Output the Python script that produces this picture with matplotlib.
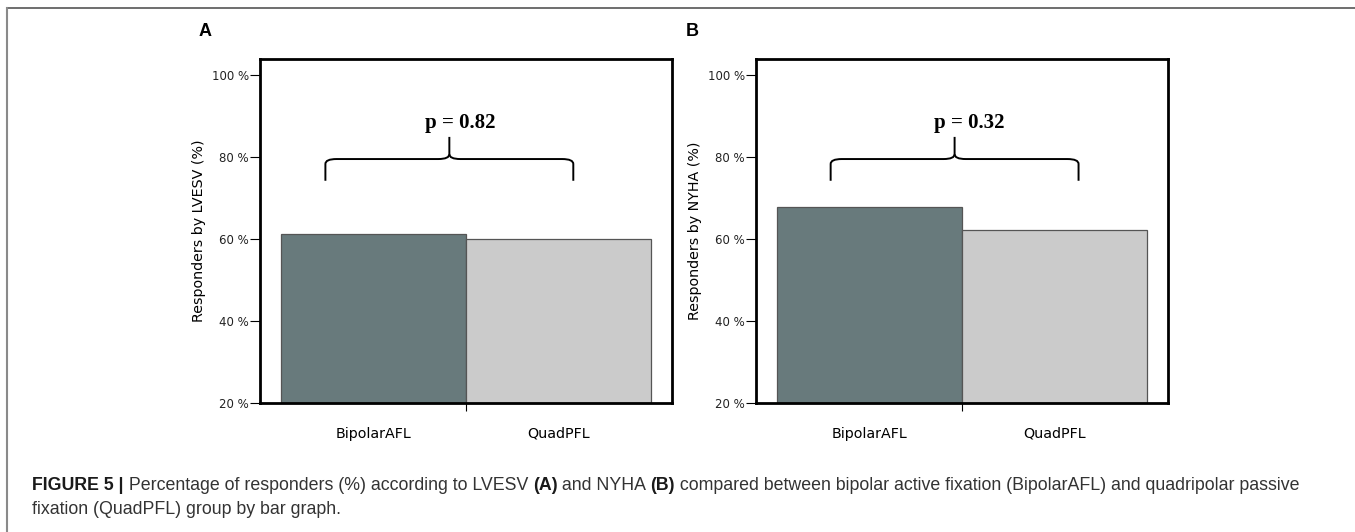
import numpy as np
import matplotlib.pyplot as plt
from matplotlib.path import Path
from matplotlib.patches import PathPatch
from matplotlib.lines import Line2D

groups = ['BipolarAFL', 'QuadPFL']
lvesv = [61.2, 60.0]
nyha = [67.8, 62.2]
p_values = ['p = 0.82', 'p = 0.32']
panel_names = ['A', 'B']
ylabels = ['Responders by LVESV (%)', 'Responders by NYHA (%)']
yticks = [20, 40, 60, 80, 100]

bar_colors = ['#687a7c', '#cbcbcb']
W, H = 1355, 532


def px_axes(fig, left, top, right, bottom):
    return fig.add_axes([left / W, 1 - bottom / H, (right - left) / W, (bottom - top) / H])


def draw_brace(ax, x0, x1, xtip, y, y_end, y_tip):
    # curly brace made of quadratic curves
    r = 0.06
    dy = 1.2
    verts = [(x0, y_end), (x0, y - dy), (x0, y), (x0 + r, y),
             (xtip - r, y), (xtip, y), (xtip, y + dy), (xtip, y_tip)]
    codes = [Path.MOVETO, Path.LINETO, Path.CURVE3, Path.CURVE3,
             Path.LINETO, Path.CURVE3, Path.CURVE3, Path.LINETO]
    verts2 = [(x1, y_end), (x1, y - dy), (x1, y), (x1 - r, y),
              (xtip + r, y), (xtip, y), (xtip, y + dy)]
    codes2 = [Path.MOVETO, Path.LINETO, Path.CURVE3, Path.CURVE3,
              Path.LINETO, Path.CURVE3, Path.CURVE3]
    for v, c in [(verts, codes), (verts2, codes2)]:
        ax.add_patch(PathPatch(Path(v, c), fill=False, lw=1.4, color='black'))


fig = plt.figure(figsize=(W / 100, H / 100), dpi=100)

axes = [px_axes(fig, 260, 59, 672, 403), px_axes(fig, 756, 59, 1168, 403)]
data = [lvesv, nyha]
braces = [(-0.26, 1.08, 0.41), (-0.21, 1.13, 0.46)]
ptext_x = [0.47, 0.54]
letter_x = [205, 692]

for i, ax in enumerate(axes):
    x = np.arange(len(groups))
    ax.bar(x, np.array(data[i]) - 20, bottom=20, width=1.0, color=bar_colors,
           edgecolor='#555555', linewidth=0.9, zorder=2)
    ax.set_xlim(-0.6135, 1.6135)
    ax.set_ylim(20, 103.9)
    ax.set_yticks(yticks)
    ax.set_yticklabels([f'{t} %' for t in yticks], fontsize=8.5, color='#222222')
    ax.tick_params(axis='y', length=7, width=0.8, pad=1)
    ax.set_xticks([0.5])
    ax.set_xticklabels([''])
    ax.tick_params(axis='x', which='major', length=6, width=0.8, direction='out')
    ax.set_xticks(x, groups, minor=True)
    ax.tick_params(axis='x', which='minor', length=0, pad=17, labelsize=10.3)
    for s in ax.spines.values():
        s.set_linewidth(2)
    ax.set_ylabel(ylabels[i], fontsize=10.3, labelpad=4)
    b = braces[i]
    draw_brace(ax, b[0], b[1], b[2], 79.5, 74.2, 84.9)
    ax.text(ptext_x[i], 88.3, p_values[i], ha='center', va='center',
            fontsize=15, fontweight='bold', family='Liberation Serif')
    fig.text(letter_x[i] / W, 1 - 32 / H, panel_names[i], ha='center', va='center',
             fontsize=13, fontweight='bold', family='Liberation Sans')

# outer frame lines
fig.add_artist(Line2D([7 / W, 1], [1 - 8 / H, 1 - 8 / H], color='#555555', lw=1.2))
fig.add_artist(Line2D([7.5 / W, 7.5 / W], [0, 1 - 8 / H], color='#8a8a8a', lw=1.5))

# caption with bold fragments
renderer = fig.canvas.get_renderer()
line1 = [('FIGURE 5 |', 'bold', '#1a1a1a'),
         (' Percentage of responders (%) according to LVESV ', 'normal', '#333333'),
         ('(A)', 'bold', '#1a1a1a'),
         (' and NYHA ', 'normal', '#333333'),
         ('(B)', 'bold', '#1a1a1a'),
         (' compared between bipolar active fixation (BipolarAFL) and quadripolar passive',
          'normal', '#333333')]
line2 = [('fixation (QuadPFL) group by bar graph.', 'normal', '#333333')]
for parts, ypx in [(line1, 485), (line2, 509)]:
    xpx = 32
    for txt, wt, col in parts:
        t = fig.text(xpx / W, 1 - ypx / H, txt, ha='left', va='center', fontsize=12.8,
                     fontweight=wt, color=col, family='Liberation Sans')
        xpx += t.get_window_extent(renderer).width

fig.savefig('out.png', dpi=100)
